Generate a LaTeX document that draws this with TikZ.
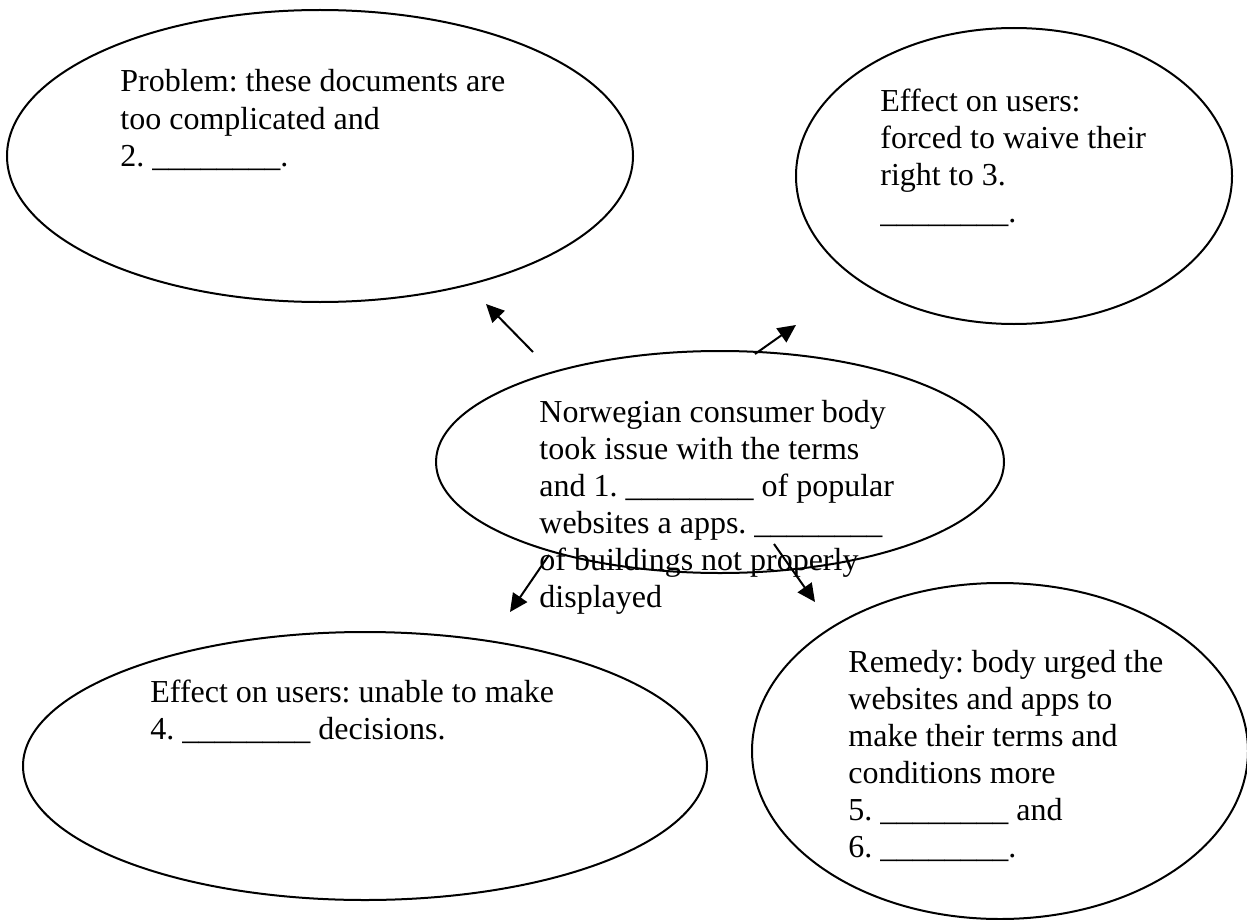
\documentclass[tikz,border=0pt]{standalone}
\usepackage{fontspec}
\setmainfont{Liberation Serif}
\usetikzlibrary{shapes.geometric,arrows.meta}
\frenchspacing
\newcommand\blk{\_\_\_\_\_\_\_\_}
\tikzset{
  bubble/.style={draw, line width=1pt, ellipse, inner sep=0pt},
  txt/.style={anchor=base west, inner sep=0pt, font=\fontsize{16}{18.5}\selectfont},
  arr/.style={line width=1pt, -{Triangle[length=9pt,width=8.5pt]}}
}
\begin{document}
\begin{tikzpicture}[x=0.5pt,y=-0.5pt]
\useasboundingbox (0,0) rectangle (1247,920);
% ellipses
\node[bubble, minimum width=313pt, minimum height=146pt] (e1) at (320,156) {};
\node[bubble, minimum width=218pt, minimum height=148pt] (e2) at (1014,176) {};
\node[bubble, minimum width=284pt, minimum height=111pt] (e3) at (720,462) {};
\node[bubble, minimum width=342pt, minimum height=134pt] (e4) at (365,766) {};
\node[bubble, minimum width=248pt, minimum height=168pt] (e5) at (1000,751) {};
% texts
\node[txt] (t1) at (120,92) {\vtop{\hbox{Problem: these documents are}\hbox{too complicated and}\hbox{2. \blk.}}};
\node[txt] (t2) at (880,112) {\vtop{\hbox{Effect on users:}\hbox{forced to waive their}\hbox{right to 3.}\hbox{\blk.}}};
\node[txt] (t3) at (539,422) {\vtop{\hbox{Norwegian consumer body}\hbox{took issue with the terms}\hbox{and 1. \blk{} of popular}\hbox{websites a apps. \blk}\hbox{of buildings not properly}\hbox{displayed}}};
\node[txt] (t4) at (150,702) {\vtop{\hbox{Effect on users: unable to make}\hbox{4. \blk{} decisions.}}};
\node[txt] (t5) at (848,672) {\vtop{\hbox{Remedy: body urged the}\hbox{websites and apps to}\hbox{make their terms and}\hbox{conditions more}\hbox{5. \blk{} and}\hbox{6. \blk.}}};
% arrows
\coordinate (a1s) at (533,352); \coordinate (a1e) at (486,304);
\coordinate (a2s) at (755,354); \coordinate (a2e) at (796,325);
\coordinate (a3s) at (549,555); \coordinate (a3e) at (510,612);
\coordinate (a4s) at (774,544); \coordinate (a4e) at (815,602);
\draw[arr] (a1s) -- (a1e);
\draw[arr] (a2s) -- (a2e);
\draw[arr] (a3s) -- (a3e);
\draw[arr] (a4s) -- (a4e);
\end{tikzpicture}
\end{document}
